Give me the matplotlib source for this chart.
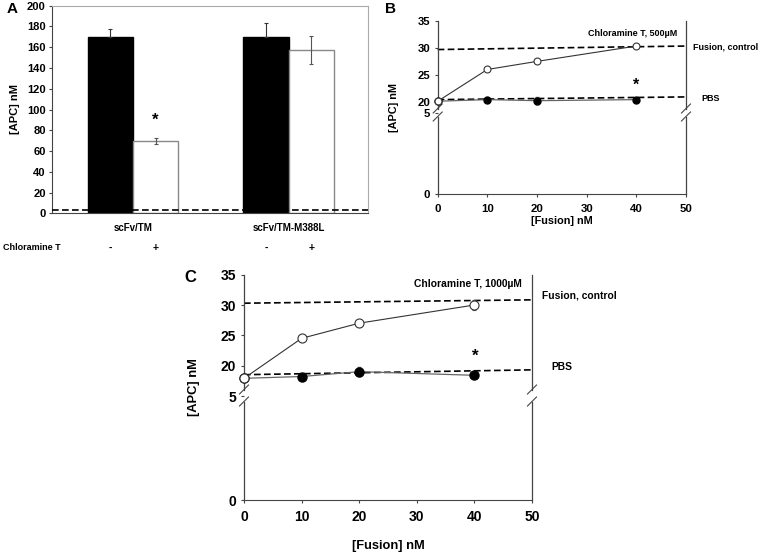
import numpy as np
import matplotlib
matplotlib.use('Agg')
import matplotlib.pyplot as plt

plt.rcParams['font.family'] = ['Liberation Sans', 'DejaVu Sans']
plt.rcParams['font.weight'] = 'bold'
plt.rcParams['axes.labelweight'] = 'bold'

# ---------------- data ----------------
# Panel A
groups = ['scFv/TM', 'scFv/TM-M388L']
ctrl_vals = [170, 170]
ctrl_err = [7.5, 13]
chl_vals = [70, 157]
chl_err = [3, 13.5]
baseline_A = 3
signs = ['-', '+']

# Panel B (Chloramine T 500 uM)
fusion_x = [0, 10, 20, 40]
b_chl = [20.1, 26.0, 27.5, 30.35]
b_chl_err = [0.2, 0.2, 0.2, 0.3]
b_pbs = [20.1, 20.4, 20.2, 20.4]
b_pbs_err = [0.2, 0.3, 0.7, 0.3]
line_x = [0, 50]
b_ctrl_line = [29.7, 30.35]
b_pbs_line = [20.4, 20.9]

# Panel C (Chloramine T 1000 uM)
c_chl = [17.9, 24.5, 27.0, 30.0]
c_chl_err = [0.3, 0.6, 0.6, 0.8]
c_pbs = [17.9, 18.2, 19.0, 18.4]
c_pbs_err = [0.2, 0.3, 0.7, 0.3]
c_ctrl_line = [30.3, 30.85]
c_pbs_line = [18.5, 19.3]

W, H = 760, 553
fig = plt.figure(figsize=(W / 100, H / 100), dpi=100)


def rect(l, t, r, b):
    return [l / W, 1 - b / H, (r - l) / W, (b - t) / H]


def ftext(x, y, s, **kw):
    fig.text(x / W, 1 - y / H, s, fontweight='bold', **kw)


def bold_ticks(ax):
    for lab in ax.get_xticklabels() + ax.get_yticklabels():
        lab.set_fontweight('bold')


AX = '#444444'

# ---------------- Panel A ----------------
axA = fig.add_axes(rect(52, 5.7, 368, 213.3))
xg = np.arange(len(groups))
bw = 0.29
axA.bar(xg - bw / 2, ctrl_vals, bw, color='black', edgecolor='black', zorder=2,
        yerr=[np.zeros(len(ctrl_err)), ctrl_err],
        error_kw=dict(ecolor='#333333', elinewidth=0.8, capsize=1.5, capthick=0.8))
axA.bar(xg + bw / 2, chl_vals, bw, color='white', edgecolor='#888888', linewidth=1.0, zorder=2,
        yerr=chl_err,
        error_kw=dict(ecolor='#555555', elinewidth=0.8, capsize=1.5, capthick=0.8))
axA.axhline(baseline_A, color='black', ls=(0, (4, 2)), lw=1.2, zorder=3)
axA.set_xlim(-0.52, 1.51)
axA.set_ylim(0, 200)
axA.set_yticks(np.arange(0, 201, 20))
axA.tick_params(axis='y', labelsize=8, length=2.5, width=0.8, color=AX, pad=2)
axA.set_xticks(xg)
axA.set_xticklabels(groups, fontsize=7)
axA.tick_params(axis='x', length=0, pad=7)
bold_ticks(axA)
for s in ['top', 'right']:
    axA.spines[s].set_color('#aaaaaa')
for s in ['left', 'bottom']:
    axA.spines[s].set_color(AX)
axA.set_ylabel('[APC] nM', fontsize=8, labelpad=5)
axA.text(xg[0] + bw / 2, chl_vals[0] + chl_err[0] + 17, '*', ha='center', va='center',
         fontsize=12, fontweight='bold')
for i in range(len(groups)):
    for j, sg in enumerate(signs):
        axA.text(xg[i] + (j - 0.5) * bw, -0.165, sg, transform=axA.get_xaxis_transform(),
                 ha='center', va='center', fontsize=7.5, fontweight='bold')
ftext(3, 247, 'Chloramine T', fontsize=6.5, ha='left', va='center')
ftext(12, 9, 'A', fontsize=11, ha='center', va='center')


# ---------------- broken-axis panels ----------------
def make_scale(p5, lo, top):
    xs = [0, 5, lo, 35]
    ps = [0, p5, p5 + 1, top]

    def fwd(v):
        return np.interp(v, xs, ps)

    def inv(p):
        return np.interp(p, ps, xs)
    return fwd, inv


def broken_panel(r, p5, lo, top, chl, chl_err, pbs, pbs_err, ctrl_line, pbs_line,
                 title, title_y, star_y, tick_fs, lab_fs, txt_fs, ms, sep, labels_px,
                 ylpad, xlpad):
    ax = fig.add_axes(rect(*r))
    wpx = r[2] - r[0]
    hpx = r[3] - r[1]
    fwd, inv = make_scale(p5, lo, top)
    ax.set_yscale('function', functions=(fwd, inv))
    ax.set_ylim(0, 35)
    ax.set_xlim(0, 50)
    ax.set_yticks([0, 5, 20, 25, 30, 35])
    ax.set_xticks([0, 10, 20, 30, 40, 50])
    ax.minorticks_off()
    ax.tick_params(axis='both', labelsize=tick_fs, length=2.5, width=0.8, color=AX)
    ax.tick_params(axis='x', pad=5)
    ax.tick_params(axis='y', pad=3)
    bold_ticks(ax)
    for s in ['top', 'left', 'right']:
        ax.spines[s].set_visible(False)
    ax.spines['bottom'].set_color(AX)

    # dashed reference lines
    ax.plot(line_x, ctrl_line, color='black', ls=(0, (4, 2)), lw=1.2, zorder=2, clip_on=False)
    ax.plot(line_x, pbs_line, color='black', ls=(0, (4, 2)), lw=1.2, zorder=2, clip_on=False)
    # PBS series
    ax.errorbar(fusion_x, pbs, yerr=pbs_err, color='#666666', lw=0.9, marker='o', ms=ms,
                mfc='black', mec='black', ecolor='#666666', elinewidth=0.8, capsize=1.5,
                zorder=3, clip_on=False)
    # Chloramine T series
    ax.errorbar(fusion_x, chl, yerr=chl_err, color='#333333', lw=0.8, marker='o', ms=ms,
                mfc='white', mec='#333333', mew=0.8, ecolor='#555555', elinewidth=0.8,
                capsize=1.5, zorder=4, clip_on=False)
    ax.text(fusion_x[-1], star_y, '*', ha='center', va='center', fontsize=txt_fs + 5,
            fontweight='bold')
    ax.text(0.965, title_y, title, transform=ax.transAxes, ha='right', va='center',
            fontsize=txt_fs, fontweight='bold')

    # broken spines
    yc = (p5 + 0.5) / top
    s = sep / hpx
    dx = 4.5 / wpx
    dy = 4.5 / hpx
    for x in (0, 1):
        ax.plot([x, x], [0, yc - s], transform=ax.transAxes, color=AX, lw=0.9, clip_on=False)
        ax.plot([x, x], [yc + s, 1], transform=ax.transAxes, color=AX, lw=0.9, clip_on=False)
        for yy in (yc - s, yc + s):
            ax.plot([x - dx, x + dx], [yy - dy, yy + dy], transform=ax.transAxes,
                    color=AX, lw=0.8, clip_on=False)
    ax.set_ylabel('[APC] nM', fontsize=lab_fs, labelpad=ylpad)
    ax.set_xlabel('[Fusion] nM', fontsize=lab_fs, labelpad=xlpad)
    (fx, fy), (px, py) = labels_px
    ftext(fx, fy, 'Fusion, control', fontsize=txt_fs, ha='left', va='center')
    ftext(px, py, 'PBS', fontsize=txt_fs, ha='left', va='center')
    return ax


axB = broken_panel((437.7, 21, 686, 194), 81, 18.1, 173, b_chl, b_chl_err, b_pbs, b_pbs_err,
                   b_ctrl_line, b_pbs_line, 'Chloramine T, 500µM', 0.929, 23.0,
                   8.2, 7.8, 6.5, 5.0, 4, ((692.7, 46.7), (701.7, 98.3)), 13, 1)
ftext(391, 9, 'B', fontsize=11, ha='center', va='center')

axC = broken_panel((244, 274.7, 532, 500), 104, 15.15, 225.3, c_chl, c_chl_err, c_pbs, c_pbs_err,
                   c_ctrl_line, c_pbs_line, 'Chloramine T, 1000µM', 0.959, 21.6,
                   10, 9.3, 7.4, 6.5, 6, ((541.7, 296), (551.7, 366.7)), 15, 11)
ftext(190, 277, 'C', fontsize=12, ha='center', va='center')

fig.savefig('out.png', dpi=100, facecolor='white')
